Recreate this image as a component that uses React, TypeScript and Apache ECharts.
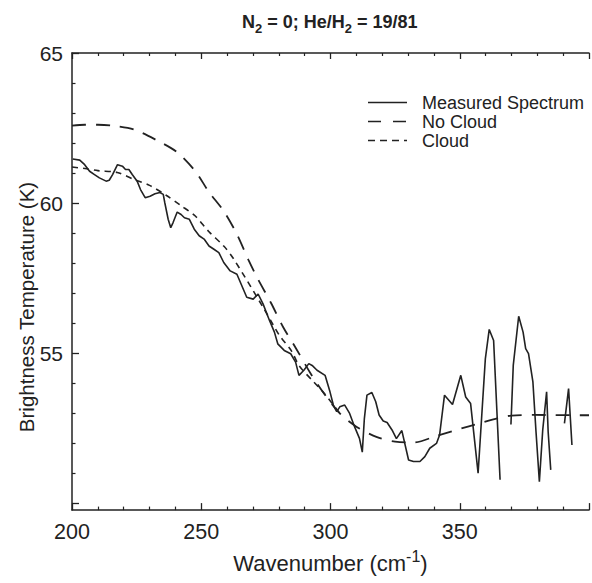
import React, { useEffect, useRef } from "react";
import * as echarts from "echarts";

const FONT = '"Liberation Sans", Arial, Helvetica, sans-serif';
const INK = "#222";

// Axis ticks / labels
const xMajorInterval = 50;
const xLabelHide = [400];
const yLabelValues = [55, 60, 65];
const yMajorTicks = [50, 55, 60, 65];
const yMinorTicks = [51, 52, 53, 54, 56, 57, 58, 59, 61, 62, 63, 64];

// Measured spectrum (wavenumber, brightness temperature); null = data gap
const measured: [number, number | null][] = [
  [200.3, 61.47], [203.0, 61.43], [204.9, 61.28], [206.8, 61.06], [208.7, 60.95],
  [210.6, 60.84], [213.2, 60.73], [214.4, 60.76], [215.7, 60.95], [217.6, 61.28],
  [219.5, 61.23], [220.7, 61.12], [222.0, 61.12], [223.3, 60.95], [225.2, 60.73],
  [226.5, 60.45], [228.3, 60.18], [230.2, 60.23], [232.1, 60.31], [234.0, 60.35],
  [235.3, 60.29], [235.9, 60.01], [237.2, 59.46], [238.2, 59.18], [239.1, 59.35],
  [240.7, 59.70], [242.2, 59.62], [243.5, 59.51], [245.4, 59.46], [247.3, 59.13],
  [249.2, 58.91], [251.1, 58.80], [253.0, 58.57], [254.9, 58.46], [256.8, 58.35],
  [258.7, 58.02], [261.2, 57.74], [263.8, 57.63], [267.6, 56.86], [270.1, 56.80],
  [272.0, 56.97], [273.9, 56.64], [276.4, 56.09], [278.3, 55.70], [279.6, 55.31],
  [282.1, 55.09], [284.6, 54.98], [286.5, 54.70], [287.8, 54.26], [289.7, 54.43],
  [291.6, 54.65], [292.9, 54.59], [294.8, 54.43], [297.9, 54.26], [299.8, 53.71],
  [301.1, 53.27], [302.4, 53.05], [303.6, 53.21], [305.5, 53.27], [307.4, 52.99],
  [309.3, 52.55], [311.2, 52.16], [312.3, 51.70], [313.1, 52.82], [314.1, 53.60],
  [316.0, 53.69], [317.5, 53.38], [318.8, 52.94], [320.4, 52.74], [321.9, 52.69],
  [323.8, 52.44], [325.5, 52.15], [327.6, 52.42], [330.2, 51.44], [332.1, 51.39],
  [334.6, 51.39], [336.5, 51.55], [338.4, 51.83], [341.0, 51.99], [342.2, 52.27],
  [344.1, 53.60], [347.2, 53.29], [350.4, 54.26], [352.3, 53.54], [354.2, 53.32],
  [357.1, 51.00], [359.9, 54.81], [361.4, 55.79], [363.1, 55.42], [365.6, 50.78],
  [367.5, null],
  [369.8, 52.62], [370.7, 54.59], [372.8, 56.23], [374.5, 55.70], [375.5, 55.15],
  [376.6, 54.98], [378.3, 54.04], [379.5, 52.38], [380.8, 50.72], [382.1, 52.44],
  [383.6, 53.71], [384.2, 52.38], [385.2, 51.11],
  [388.0, null],
  [390.5, 52.66], [392.1, 53.82], [393.4, 51.94],
];

// Model without cloud
const noCloud: [number, number][] = [
  [200, 62.58], [205, 62.61], [210, 62.61], [215.6, 62.58], [223.9, 62.45],
  [232.6, 62.10], [240.6, 61.70], [247.8, 61.05], [252.8, 60.39], [258.8, 59.72],
  [263.8, 58.96], [268.3, 58.10], [272.1, 57.44], [277.0, 56.67], [281.6, 55.88],
  [286.5, 55.18], [292.6, 54.28], [297.2, 53.69], [303.6, 52.99], [310, 52.55],
  [318, 52.20], [325, 52.05], [332, 52.02], [341.6, 52.26], [356, 52.62],
  [370, 52.92], [378.7, 52.94], [397.3, 52.93], [400, 52.93],
];

// Model with cloud (merges with the no-cloud model beyond ~304)
const cloud: [number, number][] = [
  [200, 61.20], [205, 61.15], [210, 61.08], [217.5, 61.02], [223.9, 60.79],
  [230.0, 60.59], [236.4, 60.26], [242.1, 59.92], [247.8, 59.56], [252.8, 59.06],
  [258.8, 58.56], [262.6, 58.13], [273.9, 56.53], [278.1, 55.90], [280.2, 55.60],
  [285.0, 55.06], [287.8, 54.59], [293.5, 54.04], [297.3, 53.69], [303.6, 52.99],
];

const legendItems = [
  { name: "Measured Spectrum", dash: null as number[] | null },
  { name: "No Cloud", dash: [13, 12] },
  { name: "Cloud", dash: [7, 5] },
];

export default function App() {
  const ref = useRef<HTMLDivElement>(null);

  useEffect(() => {
    if (!ref.current) return;
    const chart = echarts.init(ref.current, undefined, { renderer: "svg" });

    const axisLine = { show: true, onZero: false, lineStyle: { color: INK, width: 1.5 } };

    const legendGraphics: any[] = [];
    legendItems.forEach((it, i) => {
      const y = 102.5 + i * 19;
      legendGraphics.push({
        type: "line",
        shape: { x1: 368, y1: y, x2: 407, y2: y },
        style: { stroke: INK, lineWidth: 1.6, lineDash: it.dash || undefined },
      });
      legendGraphics.push({
        type: "text",
        x: 422,
        y: y,
        style: {
          text: it.name,
          fontSize: 18,
          lineHeight: 18,
          fontFamily: FONT,
          fill: INK,
          align: "left",
          verticalAlign: "middle",
        },
      });
    });

    chart.setOption({
      animation: false,
      backgroundColor: "#fff",
      title: {
        text: "N{sub|2} = 0; He/H{sub|2} = 19/81",
        left: 242,
        top: 9,
        padding: 0,
        textStyle: {
          fontSize: 18,
          fontWeight: "bold",
          fontFamily: FONT,
          color: INK,
          lineHeight: 26,
          rich: {
            sub: { fontSize: 13, fontWeight: "bold", fontFamily: FONT, color: INK, verticalAlign: "bottom" },
          },
        },
      },
      grid: { left: 72, top: 53, right: -7, bottom: 71 },
      xAxis: [
        {
          type: "value",
          position: "bottom",
          min: 200,
          max: 400,
          interval: xMajorInterval,
          axisLine,
          axisTick: { show: true, inside: true, length: 7, lineStyle: { color: INK, width: 1.3 } },
          minorTick: { show: true, splitNumber: 5, length: 3.5, lineStyle: { color: INK, width: 1.2 } },
          splitLine: { show: false },
          axisLabel: {
            fontSize: 21.5,
            fontFamily: FONT,
            color: INK,
            margin: 11,
            formatter: (v: number) => (xLabelHide.includes(v) ? "" : String(v)),
          },
          name: "Wavenumber (cm{sup|-1})",
          nameLocation: "middle",
          nameGap: 32,
          nameTextStyle: {
            fontSize: 22,
            fontFamily: FONT,
            color: INK,
            lineHeight: 30,
            rich: { sup: { fontSize: 16, fontFamily: FONT, color: INK, verticalAlign: "top" } },
          },
        },
        {
          type: "value",
          position: "top",
          min: 200,
          max: 400,
          interval: xMajorInterval,
          axisLine,
          axisTick: { show: true, inside: true, length: 6, lineStyle: { color: INK, width: 1.3 } },
          minorTick: { show: true, splitNumber: 5, length: 3, lineStyle: { color: INK, width: 1.2 } },
          splitLine: { show: false },
          axisLabel: { show: false },
        },
      ],
      yAxis: [
        {
          type: "value",
          position: "left",
          min: 49.77,
          max: 65,
          axisLine,
          axisTick: { show: true, inside: true, length: 7, customValues: yMajorTicks, lineStyle: { color: INK, width: 1.3 } },
          splitLine: { show: false },
          axisLabel: { customValues: yLabelValues, fontSize: 21, fontFamily: FONT, color: INK, margin: 9 },
        },
        {
          type: "value",
          position: "left",
          min: 49.77,
          max: 65,
          axisLine: { show: false },
          axisTick: { show: true, inside: true, length: 3.5, customValues: yMinorTicks, lineStyle: { color: INK, width: 1.2 } },
          splitLine: { show: false },
          axisLabel: { show: false },
        },
      ],
      graphic: [
        {
          type: "text",
          x: 26,
          y: 307,
          rotation: Math.PI / 2,
          style: {
            text: "Brightness Temperature (K)",
            fontSize: 20.5,
            fontFamily: FONT,
            fill: INK,
            align: "center",
            verticalAlign: "middle",
          },
        },
        ...legendGraphics,
      ],
      series: [
        {
          name: "Measured Spectrum",
          type: "line",
          xAxisIndex: 0,
          yAxisIndex: 0,
          data: measured,
          showSymbol: false,
          connectNulls: false,
          lineStyle: { color: INK, width: 1.6 },
          z: 3,
        },
        {
          name: "No Cloud",
          type: "line",
          xAxisIndex: 0,
          yAxisIndex: 0,
          data: noCloud,
          showSymbol: false,
          smooth: 0.3,
          lineStyle: { color: INK, width: 1.8, type: [14, 10] },
          z: 2,
        },
        {
          name: "Cloud",
          type: "line",
          xAxisIndex: 0,
          yAxisIndex: 0,
          data: cloud,
          showSymbol: false,
          smooth: 0.3,
          lineStyle: { color: INK, width: 1.6, type: [6, 5] },
          z: 2,
        },
      ],
    });

    return () => chart.dispose();
  }, []);

  return (
    <div
      ref={ref}
      style={{ position: "absolute", left: 0, top: 0, width: 592, height: 583, overflow: "hidden" }}
    />
  );
}
